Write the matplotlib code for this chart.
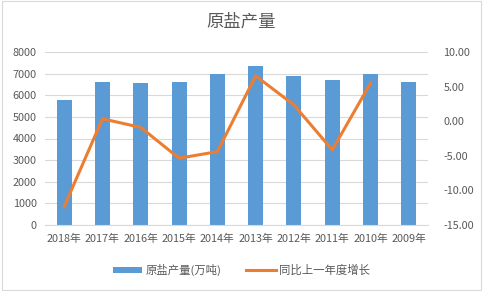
import matplotlib.pyplot as plt
import numpy as np

plt.rcParams['font.family'] = ['Noto Sans CJK SC', 'DejaVu Sans']

years = ["2018年", "2017年", "2016年", "2015年", "2014年",
         "2013年", "2012年", "2011年", "2010年", "2009年"]
output = [5800, 6620, 6580, 6620, 7000, 7330, 6910, 6710, 7000, 6620]
growth = [-12.35, 0.35, -0.9, -5.35, -4.4, 6.55, 2.35, -4.15, 5.5]

BAR_COLOR = "#5B9BD5"
LINE_COLOR = "#ED7D31"
TEXT_COLOR = "#595959"


def main():
    fig = plt.figure(figsize=(4.83, 2.91), dpi=100)
    ax = fig.add_axes([45 / 483, 1 - 225 / 291, (428 - 45) / 483, (225 - 52) / 291])
    ax2 = ax.twinx()

    x = np.arange(len(years))
    ax.bar(x, output, 0.39, color=BAR_COLOR, label="原盐产量(万吨)", zorder=2)
    ax2.plot(x[:len(growth)], growth, color=LINE_COLOR, linewidth=2.2,
             label="同比上一年度增长", zorder=3)

    ax.set_xlim(-0.5, len(years) - 0.5)
    ax.set_ylim(0, 8000)
    ax.set_yticks(range(0, 8001, 1000))
    ax2.set_ylim(-15, 10)
    ax2.set_yticks(range(-15, 11, 5))
    ax2.set_yticklabels([f"{v:.2f}" for v in range(-15, 11, 5)])

    ax.set_xticks(x)
    ax.set_xticklabels(years)
    ax.grid(axis="y", color="#D9D9D9", linewidth=0.8, zorder=0)
    ax.set_axisbelow(True)

    for a in (ax, ax2):
        for s in a.spines.values():
            s.set_visible(False)
        a.tick_params(length=0, labelsize=7.8, colors=TEXT_COLOR)
    ax.spines["bottom"].set_visible(True)
    ax.spines["bottom"].set_color("#D9D9D9")
    ax.tick_params(axis="x", pad=6)
    ax.tick_params(axis="y", pad=6)
    ax2.tick_params(axis="y", pad=11)

    fig.text(0.5, 1 - 22 / 291, "原盐产量", ha="center", va="center",
             fontsize=12.5, color=TEXT_COLOR)

    h1, l1 = ax.get_legend_handles_labels()
    h2, l2 = ax2.get_legend_handles_labels()
    fig.legend(h1 + h2, l1 + l2, loc="center", bbox_to_anchor=(0.5, 1 - 270 / 291),
               ncol=2, frameon=False, fontsize=8.2, labelcolor=TEXT_COLOR,
               handlelength=2.6, handleheight=0.5, columnspacing=2.2, handletextpad=0.3)

    fig.patches.append(plt.Rectangle((0.004, 0.004), 0.992, 0.992, transform=fig.transFigure,
                                     fill=False, edgecolor="#D9D9D9", linewidth=0.8))

    fig.savefig("out.png", dpi=100)


if __name__ == "__main__":
    main()
